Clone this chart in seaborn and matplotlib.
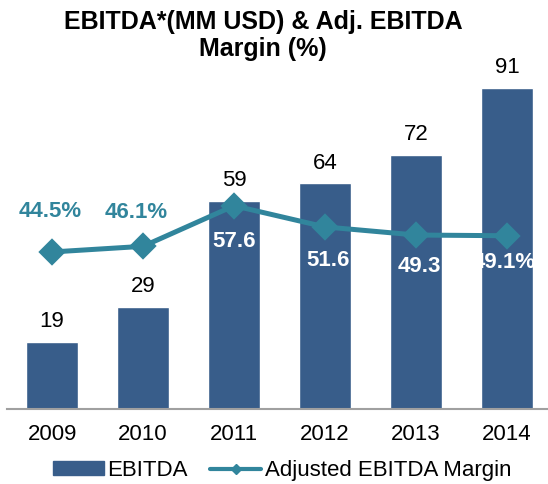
import matplotlib
matplotlib.use("Agg")
import matplotlib.pyplot as plt
import seaborn as sns
import pandas as pd
from matplotlib.patches import Patch
from matplotlib.lines import Line2D

years = ["2009", "2010", "2011", "2012", "2013", "2014"]
ebitda = [19, 29, 59, 64, 72, 91]
margin = [44.5, 46.1, 57.6, 51.6, 49.3, 49.1]
margin_labels = ["44.5%", "46.1%", "57.6", "51.6", "49.3", "49.1%"]

BAR = "#385D8A"
LINE = "#31859C"

sns.set_theme(style="white")
plt.rcParams["font.family"] = ["Liberation Sans", "DejaVu Sans"]
plt.rcParams["text.color"] = "black"

df = pd.DataFrame({"year": years, "ebitda": ebitda, "margin": margin})

fig = plt.figure(figsize=(5.48, 4.84), dpi=100)
ax = fig.add_axes([0.012, 0.155, 0.988, 0.729])

sns.barplot(data=df, x="year", y="ebitda", color=BAR, saturation=1, width=0.57, ax=ax)
sns.pointplot(data=df, x="year", y="margin", color=LINE, markers="D",
              markersize=11, linewidth=3.6, ax=ax, errorbar=None)

for i, v in enumerate(ebitda):
    ax.annotate(str(v), (i, v), xytext=(0, 14.5), textcoords="offset points",
                ha="center", va="center", fontsize=16, color="black")

offsets = [(-1, 29), (-5, 24.5), (0, -26), (2, -24.5), (2, -23), (-2, -19)]
for i, (v, lab) in enumerate(zip(margin, margin_labels)):
    dx, dy = offsets[i]
    col = LINE if i < 2 else "white"
    ax.annotate(lab, (i, v), xytext=(dx, dy), textcoords="offset points",
                ha="center", va="center", fontsize=16, fontweight="bold", color=col)

ax.set_xlim(-0.5, 5.45)
ax.set_ylim(0, 100)
ax.set_xlabel("")
ax.set_ylabel("")
ax.set_yticks([])
ax.tick_params(axis="x", labelsize=16, colors="black", length=0, pad=11)
for s in ["top", "right", "left"]:
    ax.spines[s].set_visible(False)
ax.spines["bottom"].set_color("#A0A0A0")
ax.spines["bottom"].set_linewidth(1.5)

fig.suptitle("EBITDA*(MM USD) & Adj. EBITDA\nMargin (%)", x=0.48, y=0.98,
             fontsize=18, fontweight="bold", linespacing=1.15, color="black")

handles = [Patch(facecolor=BAR, edgecolor=BAR),
           Line2D([0], [0], color=LINE, lw=3, marker="D", markersize=5)]
fig.legend(handles, ["EBITDA", "Adjusted EBITDA Margin"], loc="center",
           bbox_to_anchor=(0.515, 0.028), ncol=2, frameon=False, fontsize=16,
           handlelength=2.3, handleheight=0.6, handletextpad=0.15, columnspacing=1.0,
           borderpad=0, labelcolor="black")

fig.savefig("out.png", dpi=100)
